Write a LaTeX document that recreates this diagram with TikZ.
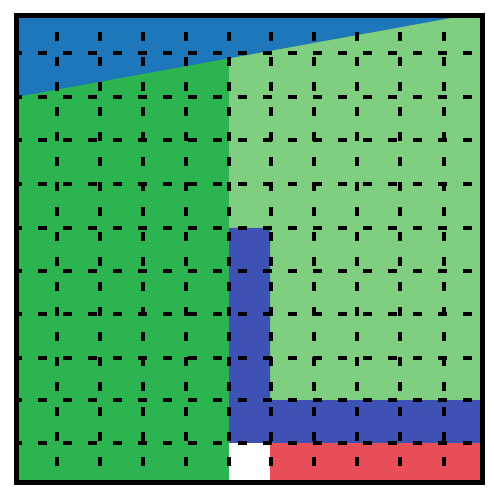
\documentclass[tikz,border=0pt]{standalone}
\begin{document}
\begin{tikzpicture}[x=0.75pt,y=-0.75pt,
  gridline/.style={line width=3pt,dash pattern=on 6.8pt off 11.95pt,black},
  frameline/.style={line width=3.9pt,black}]
\definecolor{topblue}{RGB}{30,119,186}
\definecolor{dgreen}{RGB}{44,180,80}
\definecolor{lgreen}{RGB}{128,206,128}
\definecolor{lblue}{RGB}{62,82,182}
\definecolor{cred}{RGB}{232,78,88}
\useasboundingbox (0,0) rectangle (493,498);
\fill[white] (0,0) rectangle (493,498);
% regions
\fill[dgreen] (16,16) rectangle (229,482);
\fill[lgreen] (229,16) rectangle (482,482);
\fill[topblue] (16,16) -- (16,97) -- (462,16) -- cycle;
\fill[lblue] (229,228) -- (270,228) -- (270,400) -- (482,400) -- (482,443) -- (229,443) -- cycle;
\fill[white] (229,443) rectangle (270,482);
\fill[cred] (270,443) rectangle (482,482);
% dashed grid
\begin{scope}
\clip (16,16) rectangle (482,482);
\foreach \x in {57,100,143,186,229,271,314,357,400,444}
  \draw[gridline] (\x,7) -- (\x,490);
\foreach \y in {53,97,140,184,228,271,314,358,400,443}
  \draw[gridline] (13,\y) -- (490,\y);
\end{scope}
% frame
\draw[frameline] (16.5,15.5) rectangle (482.5,482.5);
\end{tikzpicture}
\end{document}
